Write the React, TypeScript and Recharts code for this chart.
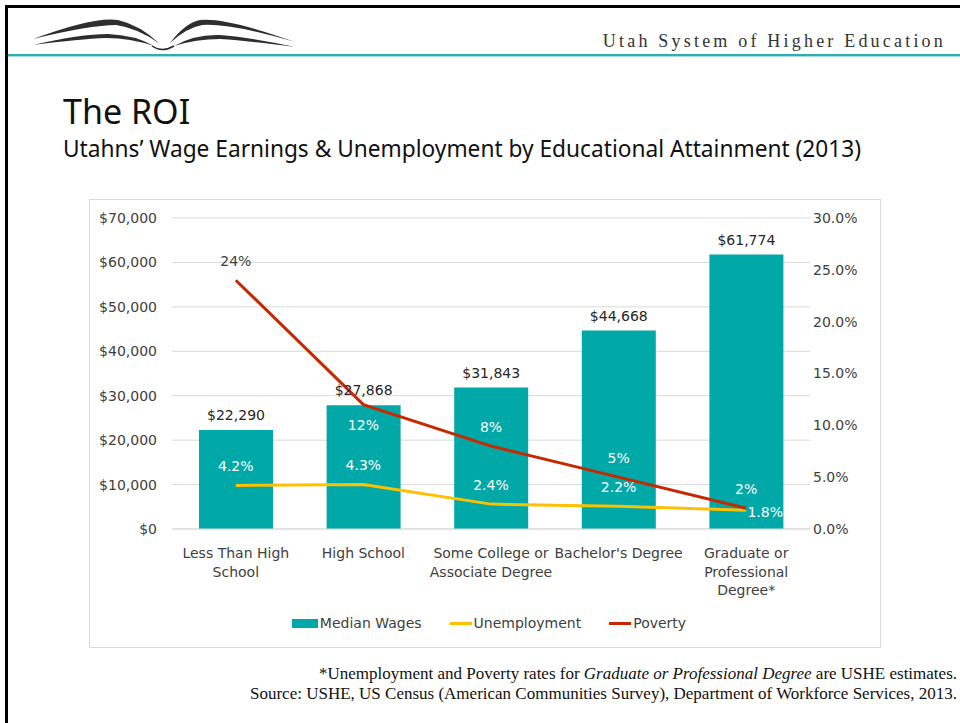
import {
  ComposedChart,
  Bar,
  Line,
  XAxis,
  YAxis,
  CartesianGrid,
  Legend,
  LabelList,
} from "recharts";

const categories = [
  "Less Than High School",
  "High School",
  "Some College or Associate Degree",
  "Bachelor's Degree",
  "Graduate or Professional Degree*",
];
const categoryLines = [
  ["Less Than High", "School"],
  ["High School"],
  ["Some College or", "Associate Degree"],
  ["Bachelor's Degree"],
  ["Graduate or", "Professional", "Degree*"],
];
const medianWages = [22290, 27868, 31843, 44668, 61774];
const unemployment = [4.2, 4.3, 2.4, 2.2, 1.8];
const poverty = [24, 12, 8, 5, 2];
const wageTicks = [0, 10000, 20000, 30000, 40000, 50000, 60000, 70000];
const rateTicks = [0, 5, 10, 15, 20, 25, 30];

const data = categories.map((name, i) => ({
  name,
  wages: medianWages[i],
  unemployment: unemployment[i],
  poverty: poverty[i],
}));

const TEAL = "#00A8A8";
const YELLOW = "#FFC000";
const RED = "#C82800";
const TEXT = "#404040";
const FONT = "'DejaVu Sans', sans-serif";

const money = (v: number) => `$${v.toLocaleString("en-US")}`;

function CategoryTick({ x, y, payload }: any) {
  const lines = categoryLines[payload.index] ?? [payload.value];
  return (
    <text x={x} y={y + 27} textAnchor="middle" fill={TEXT} fontSize={14} fontFamily={FONT}>
      {lines.map((l, i) => (
        <tspan key={i} x={x} dy={i === 0 ? 0 : 18.5}>
          {l}
        </tspan>
      ))}
    </text>
  );
}

function PovertyLabel({ x, y, index, value }: any) {
  const below = index === 1;
  return (
    <text
      x={x}
      y={below ? y + 20 : y - 19}
      textAnchor="middle"
      dominantBaseline="central"
      fill={index === 0 ? TEXT : "#FFFFFF"}
      fontSize={14}
      fontFamily={FONT}
    >
      {`${value}%`}
    </text>
  );
}

function UnemploymentLabel({ x, y, index, value }: any) {
  const last = index === unemployment.length - 1;
  return (
    <text
      x={last ? x + 19 : x}
      y={last ? y + 2 : y - 19}
      textAnchor="middle"
      dominantBaseline="central"
      fill="#FFFFFF"
      fontSize={14}
      fontFamily={FONT}
    >
      {`${value.toFixed(1)}%`}
    </text>
  );
}

function ChartLegend() {
  const items = [
    { label: "Median Wages", color: TEAL, kind: "rect" },
    { label: "Unemployment", color: YELLOW, kind: "line" },
    { label: "Poverty", color: RED, kind: "line" },
  ];
  return (
    <div
      style={{
        height: 30,
        display: "flex",
        justifyContent: "center",
        alignItems: "center",
        gap: 28,
        paddingLeft: 8,
        fontFamily: FONT,
        fontSize: 14,
        color: TEXT,
      }}
    >
      {items.map((it) => (
        <div key={it.label} style={{ display: "flex", alignItems: "center" }}>
          <span
            style={{
              width: it.kind === "rect" ? 26 : 22,
              height: it.kind === "rect" ? 9 : 3,
              background: it.color,
              display: "inline-block",
              marginRight: 2,
            }}
          />
          <span>{it.label}</span>
        </div>
      ))}
    </div>
  );
}

function Logo() {
  return (
    <svg width={300} height={60} style={{ position: "absolute", left: 0, top: 0 }}>
      <g fill="#2E2E2E">
        <path d="M33,39 Q95,16 118,20 Q140,25 160,44 Q138,28 116,25 Q90,25 33,39 Z" />
        <path d="M33,45 Q80,34 108,34 Q135,35 154,46 Q130,38 106,38 Q80,39 33,45 Z" />
        <path d="M170,43 Q185,23 200,20 Q225,17 295,42 Q230,23 202,25 Q186,28 170,43 Z" />
        <path d="M174,46 Q195,34 220,35 Q255,38 295,47 Q250,41 220,39 Q196,39 174,46 Z" />
      </g>
      <path d="M152,46 Q162,53 174,46" stroke="#2E2E2E" strokeWidth={1.5} fill="none" />
    </svg>
  );
}

export default function App() {
  return (
    <div
      style={{
        position: "absolute",
        left: 0,
        top: 0,
        width: 960,
        height: 723,
        background: "#FFFFFF",
        overflow: "hidden",
      }}
    >
      <div style={{ position: "absolute", left: 5, top: 5, width: 955, height: 3, background: "#000" }} />
      <div style={{ position: "absolute", left: 5, top: 5, width: 3, height: 718, background: "#000" }} />
      <Logo />
      <div
        style={{
          position: "absolute",
          right: 14,
          top: 31,
          fontFamily: "'Liberation Serif', serif",
          fontSize: 18,
          letterSpacing: 3.2,
          color: "#333",
          whiteSpace: "nowrap",
        }}
      >
        Utah System of Higher Education
      </div>
      <div style={{ position: "absolute", left: 8, top: 54, width: 952, height: 2, background: "#2BAFB1" }} />
      <div style={{ position: "absolute", left: 8, top: 56, width: 952, height: 1, background: "#A8DCDD" }} />

      <div
        style={{
          position: "absolute",
          left: 63,
          top: 88,
          fontFamily: "'Noto Sans', sans-serif",
          fontSize: 34,
          color: "#111",
          whiteSpace: "nowrap",
        }}
      >
        The ROI
      </div>
      <div
        style={{
          position: "absolute",
          left: 63,
          top: 133,
          fontFamily: "'Noto Sans', sans-serif",
          fontSize: 22.7,
          color: "#111",
          whiteSpace: "nowrap",
        }}
      >
        Utahns’ Wage Earnings &amp; Unemployment by Educational Attainment (2013)
      </div>

      <div
        style={{
          position: "absolute",
          left: 89,
          top: 199,
          width: 790,
          height: 447,
          border: "1px solid #D9D9D9",
        }}
      >
        <ComposedChart
          width={790}
          height={447}
          data={data}
          margin={{ top: 18, right: 0, bottom: 9, left: 0 }}
          style={{ fontFamily: FONT }}
        >
          <CartesianGrid yAxisId="wages" vertical={false} stroke="#D9D9D9" />
          <XAxis
            dataKey="name"
            height={79}
            tickLine={false}
            tickSize={0}
            axisLine={{ stroke: "#D9D9D9" }}
            interval={0}
            tick={<CategoryTick />}
          />
          <YAxis
            yAxisId="wages"
            width={82}
            domain={[0, 70000]}
            ticks={wageTicks}
            axisLine={false}
            tickLine={false}
            tickSize={0}
            tickMargin={15}
            tickFormatter={money}
            tick={{ fill: TEXT, fontSize: 14 }}
          />
          <YAxis
            yAxisId="rates"
            orientation="right"
            width={70}
            domain={[0, 30]}
            ticks={rateTicks}
            axisLine={false}
            tickLine={false}
            tickSize={0}
            tickMargin={3}
            tickFormatter={(v: number) => `${v.toFixed(1)}%`}
            tick={{ fill: TEXT, fontSize: 14 }}
          />
          <Legend verticalAlign="bottom" content={<ChartLegend />} />
          <Bar yAxisId="wages" dataKey="wages" name="Median Wages" fill={TEAL} barSize={74} isAnimationActive={false}>
            <LabelList
              dataKey="wages"
              position="top"
              offset={10}
              formatter={(v: any) => money(Number(v))}
              fill="#262626"
              fontSize={14}
            />
          </Bar>
          <Line
            yAxisId="rates"
            type="linear"
            dataKey="unemployment"
            name="Unemployment"
            stroke={YELLOW}
            strokeWidth={3}
            dot={false}
            isAnimationActive={false}
          >
            <LabelList dataKey="unemployment" content={<UnemploymentLabel />} />
          </Line>
          <Line
            yAxisId="rates"
            type="linear"
            dataKey="poverty"
            name="Poverty"
            stroke={RED}
            strokeWidth={3}
            dot={false}
            isAnimationActive={false}
          >
            <LabelList dataKey="poverty" content={<PovertyLabel />} />
          </Line>
        </ComposedChart>
      </div>

      <div
        style={{
          position: "absolute",
          right: 3,
          top: 664,
          fontFamily: "'Liberation Serif', serif",
          fontSize: 17,
          lineHeight: "20px",
          color: "#111",
          textAlign: "right",
          whiteSpace: "nowrap",
        }}
      >
        <div>
          *Unemployment and Poverty rates for <i>Graduate or Professional Degree</i> are USHE estimates.
        </div>
        <div>Source: USHE, US Census (American Communities Survey), Department of Workforce Services, 2013.</div>
      </div>
    </div>
  );
}
